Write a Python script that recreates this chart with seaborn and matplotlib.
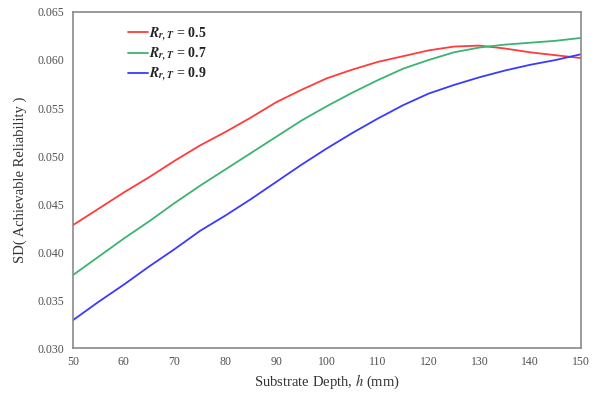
import numpy as np
import pandas as pd
import matplotlib
matplotlib.use("Agg")
import matplotlib.pyplot as plt
import seaborn as sns

depth = [50, 55, 60, 65, 70, 75, 80, 85, 90, 95, 100, 105, 110, 115, 120, 125, 130, 135, 140, 145, 150]
sd_r05 = [0.0428, 0.0445, 0.0462, 0.0478, 0.0495, 0.0511, 0.0525, 0.0540, 0.0556, 0.0569, 0.0581,
          0.0590, 0.0598, 0.0604, 0.0610, 0.0614, 0.0615, 0.0612, 0.0608, 0.0605, 0.0602]
sd_r07 = [0.0376, 0.0395, 0.0414, 0.0432, 0.0451, 0.0469, 0.0486, 0.0503, 0.0520, 0.0537, 0.0552,
          0.0566, 0.0579, 0.0591, 0.0600, 0.0608, 0.0613, 0.0616, 0.0618, 0.0620, 0.0623]
sd_r09 = [0.0329, 0.0348, 0.0366, 0.0385, 0.0403, 0.0422, 0.0438, 0.0455, 0.0473, 0.0491, 0.0508,
          0.0524, 0.0539, 0.0553, 0.0565, 0.0574, 0.0582, 0.0589, 0.0595, 0.0600, 0.0606]
series_labels = [r"$\mathbfit{R}_{\mathbfit{r,T}}$ = 0.5",
                 r"$\mathbfit{R}_{\mathbfit{r,T}}$ = 0.7",
                 r"$\mathbfit{R}_{\mathbfit{r,T}}$ = 0.9"]
colors = ["#ff3b3b", "#3cb371", "#3a3aff"]

sns.set_theme(style="white")
plt.rcParams["font.family"] = ["Liberation Serif", "DejaVu Serif"]
plt.rcParams["mathtext.fontset"] = "stix"

rows = []
for lab, vals in zip(series_labels, [sd_r05, sd_r07, sd_r09]):
    for d, v in zip(depth, vals):
        rows.append({"depth": d, "sd": v, "series": lab})
df = pd.DataFrame(rows)

fig = plt.figure(figsize=(5.94, 3.96), dpi=100)
ax = fig.add_axes([0.1229, 0.1212, 0.8552, 0.8485])
sns.lineplot(data=df, x="depth", y="sd", hue="series", palette=colors,
             linewidth=1.3, ax=ax)

ax.set_xlim(50, 150)
ax.set_ylim(0.030, 0.065)
ax.set_xticks(np.arange(50, 151, 10))
ax.set_yticks(np.arange(0.030, 0.0651, 0.005))
ax.set_yticklabels([f"{v:.3f}" for v in np.arange(0.030, 0.0651, 0.005)])
ax.tick_params(direction="in", length=3, width=1, color="#707070",
               labelsize=8.5, labelcolor="#505050", pad=6)
for s in ax.spines.values():
    s.set_color("#8a8a8a")
    s.set_linewidth(1.2)

ax.set_xlabel(r"Substrate Depth, $\mathit{h}$ (mm)", fontsize=10.5, color="#333333", labelpad=3)
ax.set_ylabel("SD( Achievable Reliability )", fontsize=10.5, color="#333333", labelpad=8)

leg = ax.legend(loc="upper left", bbox_to_anchor=(0.095, 0.982), frameon=False,
                borderpad=0.2, borderaxespad=0.3,
                handlelength=1.4, handletextpad=0.1, labelspacing=0.12,
                prop={"family": "Liberation Serif", "weight": "bold", "size": 10})
for t in leg.get_texts():
    t.set_color("#222222")

fig.savefig("out.png", dpi=100)
